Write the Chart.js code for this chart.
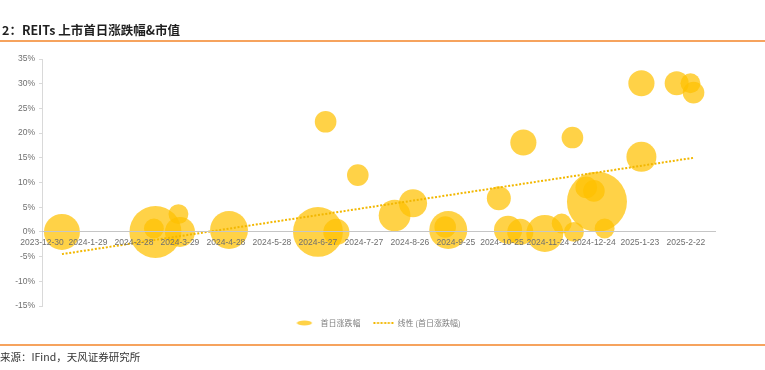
<!DOCTYPE html>
<html>
<head>
<meta charset="utf-8">
<script src="https://cdn.jsdelivr.net/npm/chart.js@4/dist/chart.umd.min.js"></script>
<style>
  html, body { margin: 0; padding: 0; background: #fff; }
  body { width: 765px; height: 370px; overflow: hidden; position: relative; }
  #wrap { position: absolute; left: 0; top: 0; width: 765px; height: 370px; }
  #title { position: absolute; left: 2px; top: 21px; line-height: 18px; font-size: 12.5px; font-weight: bold;
           font-family: "Noto Sans CJK SC", "Noto Sans", sans-serif; color: #1f1f1f; white-space: nowrap; }
  .rule { position: absolute; left: 0; width: 765px; height: 2px; background: #F6A35E; }
  #source { position: absolute; left: 0; top: 350px; line-height: 14px; font-size: 10.5px;
            font-family: "Noto Sans CJK SC", "Noto Sans", sans-serif; color: #333; white-space: nowrap; }
</style>
</head>
<body>
<div id="wrap"><canvas id="c"></canvas></div>
<div id="title">2：REITs 上市首日涨跌幅&amp;市值</div>
<div class="rule" style="top:40px"></div>
<div class="rule" style="top:344px"></div>
<div id="source">来源：IFind，天风证券研究所</div>
<script>
// ---- data ----
const xTickLabels = ['2023-12-30','2024-1-29','2024-2-28','2024-3-29','2024-4-28','2024-5-28','2024-6-27',
  '2024-7-27','2024-8-26','2024-9-25','2024-10-25','2024-11-24','2024-12-24','2025-1-23','2025-2-22'];
const yTickValues = [-15, -10, -5, 0, 5, 10, 15, 20, 25, 30, 35];
const axisEndDate = '2025-3-13';

const listingDates = ['2024-1-12','2024-3-13','2024-3-12','2024-3-28','2024-3-29','2024-4-30','2024-6-27',
  '2024-7-9','2024-7-2','2024-7-23','2024-8-16','2024-8-28','2024-9-20','2024-9-18','2024-10-23',
  '2024-10-29','2024-11-6','2024-11-8','2024-11-22','2024-12-3','2024-12-11','2024-12-10','2024-12-26',
  '2024-12-19','2024-12-24','2024-12-31','2025-1-24','2025-1-24','2025-2-16','2025-2-25','2025-2-27'];
const firstDayChange = [0, 0, 0.7, 3.6, 0, 0.4, 0,
  0, 22.3, 11.5, 3.3, 5.8, 0.4, 1.0, 6.8,
  0.4, 0, 18.1, -0.3, 1.7, 0, 19.1, 6.1,
  9.0, 8.3, 0.7, 15.2, 30.1, 30.1, 30.1, 28.2];
const marketCap = [36, 75, 11, 11, 25, 40, 69,
  19, 13, 13, 28, 22, 40, 13, 16,
  22, 19, 19, 38, 11, 11, 13, 100,
  13, 13, 11, 25, 19, 16, 11, 13];

const trendDates = ['2024-1-12', '2025-2-27'];
const trendValues = [-4.5, 15.0];

// ---- helpers ----
function dayOf(s) {
  const p = s.split('-').map(Number);
  const b = xTickLabels[0].split('-').map(Number);
  return (Date.UTC(p[0], p[1] - 1, p[2]) - Date.UTC(b[0], b[1] - 1, b[2])) / 86400000;
}
const maxCap = Math.max(...marketCap);
const maxR = 30;
const bubbleData = listingDates.map((d, i) => ({
  x: dayOf(d), y: firstDayChange[i], r: maxR * Math.sqrt(marketCap[i] / maxCap)
}));
const trendData = trendDates.map((d, i) => ({ x: dayOf(d), y: trendValues[i] }));

const GOLD = 'rgba(255,192,0,0.72)';
const LINE_GOLD = '#F2B700';
const TICK_COLOR = '#6f6f6f';
const TICK_FONT = { family: '"Liberation Sans", Arial, sans-serif', size: 8.5 };

function makeEllipse() {
  const c = document.createElement('canvas'); c.width = 20; c.height = 8;
  const g = c.getContext('2d');
  g.fillStyle = GOLD; g.beginPath(); g.ellipse(8, 4, 7.5, 2.6, 0, 0, Math.PI * 2); g.fill();
  return c;
}
function makeDots() {
  const c = document.createElement('canvas'); c.width = 22; c.height = 6;
  const g = c.getContext('2d');
  g.fillStyle = LINE_GOLD;
  for (let i = 0; i < 6; i++) { g.fillRect(1 + i * 3.6, 2, 2, 2); }
  return c;
}

const ctx = document.getElementById('c').getContext('2d');
new Chart(ctx, {
  type: 'bubble',
  data: {
    datasets: [
      { type: 'line', label: '线性 (首日涨跌幅)', data: trendData, borderColor: LINE_GOLD, borderWidth: 2,
        borderDash: [2, 1.7], pointRadius: 0, fill: false, order: 0 },
      { type: 'bubble', label: '首日涨跌幅', data: bubbleData, backgroundColor: GOLD, borderWidth: 0,
        hoverBorderWidth: 0, order: 1, clip: false }
    ]
  },
  options: {
    responsive: true, maintainAspectRatio: false, animation: false, devicePixelRatio: 1, events: [],
    layout: { padding: { top: 59, left: 0, right: 50, bottom: 33 } },
    font: { family: '"Liberation Sans", Arial, sans-serif', size: 8 },
    color: '#7f7f7f',
    scales: {
      x: {
        type: 'linear', min: 0, max: dayOf(axisEndDate),
        position: { y: 0 },
        grid: { display: false, drawTicks: false },
        border: { display: true, color: '#c6c6c6', width: 1, dash: [4, 3], z: 1 },
        afterBuildTicks: s => { s.ticks = xTickLabels.map(l => ({ value: dayOf(l) })); },
        ticks: { z: 2, autoSkip: false, maxRotation: 0, padding: 6, color: TICK_COLOR, font: TICK_FONT,
                 callback: (v, i) => xTickLabels[i] }
      },
      y: {
        type: 'linear', min: yTickValues[0], max: yTickValues[yTickValues.length - 1],
        afterBuildTicks: s => { s.ticks = yTickValues.map(v => ({ value: v })); },
        afterFit: s => { s.width = 42; },
        grid: { drawOnChartArea: false, drawTicks: true, tickLength: 3, color: '#d9d9d9' },
        border: { display: true, color: '#d9d9d9', width: 1 },
        ticks: { z: 2, padding: 4, color: TICK_COLOR, font: TICK_FONT, callback: v => v + '%' }
      }
    },
    plugins: {
      tooltip: { enabled: false },
      legend: {
        position: 'bottom', fullSize: false,
        labels: {
          usePointStyle: true, pointStyleWidth: 20, padding: 13, color: '#7f7f7f',
          font: { family: '"Noto Sans CJK SC", sans-serif', size: 8 },
          generateLabels: () => [
            { text: '首日涨跌幅', pointStyle: makeEllipse(), fillStyle: GOLD, strokeStyle: GOLD, lineWidth: 0,
              hidden: false, datasetIndex: 1, fontColor: '#7f7f7f' },
            { text: '线性 (首日涨跌幅)', pointStyle: makeDots(), fillStyle: LINE_GOLD, strokeStyle: LINE_GOLD,
              lineWidth: 0, hidden: false, datasetIndex: 0, fontColor: '#7f7f7f' }
          ]
        }
      }
    }
  }
});
</script>
</body>
</html>
